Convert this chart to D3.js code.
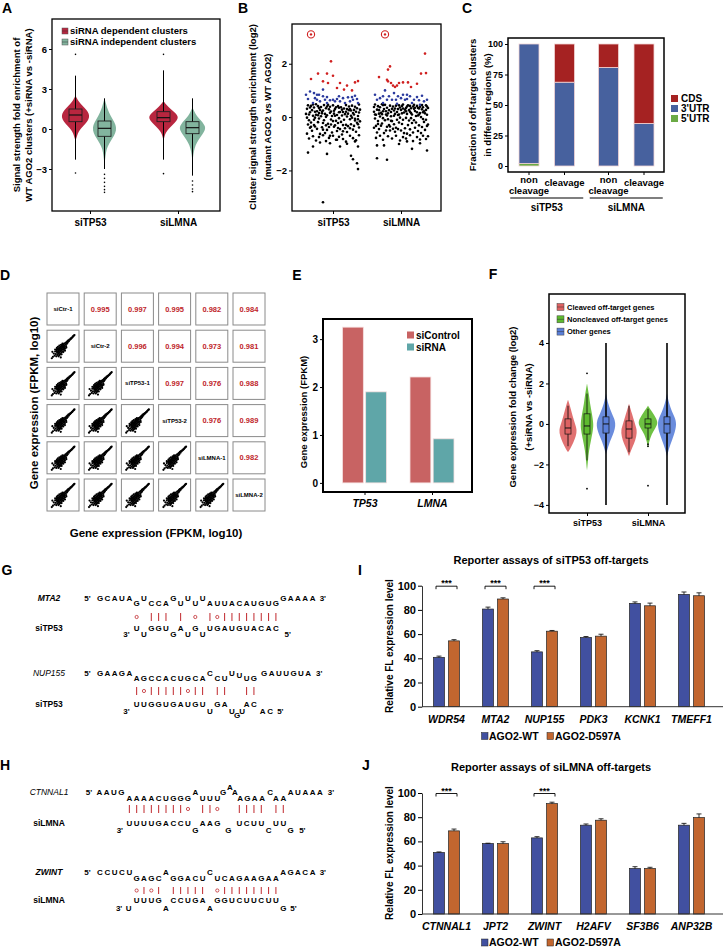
<!DOCTYPE html>
<html><head><meta charset="utf-8">
<script src="https://cdn.jsdelivr.net/npm/d3@7/dist/d3.min.js"></script>
<style>body{margin:0;background:#fff}</style>
</head><body>
<script>
// ================= DATA =================
// Panel A
const aCats = ["siTP53","siLMNA"];
const aGroups = ["siRNA dependent clusters","siRNA independent clusters"];
const aColors = ["#B8263F","#82B49E"];
const aTicks = [-3,0,3,6];
const aViolinTP53Dep = [[2.5,0],[2.2,2],[1.9,5],[1.6,9],[1.3,12.5],[1.0,14],[0.7,13],[0.4,10],[0.1,6],[-0.2,3],[-0.5,1.5],[-0.9,0]];
const aViolinTP53Ind = [[2.3,0],[1.9,1.5],[1.5,3],[1.0,6],[0.5,10],[0.1,12],[-0.3,11],[-0.7,8],[-1.1,4.5],[-1.5,2],[-2.0,1],[-2.5,0.3],[-2.8,0]];
const aViolinLMNADep = [[2.1,0],[1.8,3],[1.5,7],[1.2,12],[0.9,15],[0.6,13],[0.3,9],[0,5],[-0.3,2],[-0.6,0.8],[-0.9,0]];
const aViolinLMNAInd = [[1.6,0],[1.3,2],[1.0,4],[0.6,9],[0.2,13],[-0.1,12.5],[-0.4,10],[-0.8,6],[-1.2,3],[-1.7,1.2],[-2.2,0.4],[-2.5,0]];
const aBoxes = [[0.55,1.05,1.5],[-0.55,0.05,0.6],[0.55,0.85,1.3],[-0.35,0.1,0.55]];
const aWhiskers = [[-2.3,4.0],[-3.0,2.3],[-2.3,4.4],[-3.5,2.3]];
const aSparse = [[5.6,-3.3],[-3.4,-3.7,-4.0,-4.3,-4.55,-4.75],[5.6,-3.35],[-3.9,-4.2,-4.5,-4.7]];

// Panel B  points: [x offset within group (px), log2 enrichment]
const bCats = ["siTP53","siLMNA"];
const bTicks = [-2,0,2];
const bTP53Black = [[-26,0.31],[-24,-0.12],[-22,0.42],[-20,0.05],[-18,-0.35],[-16,0.22],[-14,-0.05],[-12,0.38],[-10,-0.22],[-8,0.12],[-6,-0.48],[-4,0.29],[-2,-0.09],[0,0.44],[2,-0.31],[4,0.08],[6,0.35],[8,-0.18],[10,0.19],[12,-0.42],[14,0.02],[16,0.4],[18,-0.27],[20,0.15],[22,-0.06],[24,0.33],[26,-0.39],
[-25,-0.28],[-23,0.18],[-21,-0.51],[-19,0.36],[-17,0.09],[-15,-0.19],[-13,0.27],[-11,-0.38],[-9,0.45],[-7,0.01],[-5,-0.25],[-3,0.16],[-1,-0.58],[1,0.24],[3,-0.14],[5,0.41],[7,-0.45],[9,0.06],[11,0.32],[13,-0.29],[15,0.13],[17,-0.08],[19,0.43],[21,-0.33],[23,0.2],[25,0.04],[27,-0.16],
[-26,-0.62],[-24,0.1],[-22,-0.2],[-20,0.47],[-18,0.2],[-16,-0.44],[-14,0.34],[-12,0.03],[-10,0.25],[-8,-0.6],[-6,0.07],[-4,-0.37],[-2,0.21],[0,-0.15],[2,0.3],[4,-0.52],[6,-0.04],[8,0.37],[10,-0.3],[12,0.11],[14,-0.56],[16,0.26],[18,0.05],[20,-0.47],[22,0.39],[24,-0.21],[26,0.17],
[-25,0.44],[-23,-0.4],[-21,0.26],[-19,-0.1],[-17,0.48],[-15,0.07],[-13,-0.63],[-11,0.14],[-9,-0.12],[-7,0.33],[-5,0.46],[-3,-0.7],[-1,0.04],[1,-0.36],[3,0.37],[5,-0.22],[7,0.19],[9,-0.65],[11,-0.1],[13,0.45],[15,-0.34],[17,0.3],[19,-0.02],[21,0.1],[23,-0.55],[25,-0.27],[27,0.28],
[-24,-0.8],[-20,-0.72],[-17,-0.88],[-14,-0.75],[-10,-0.68],[-7,-0.9],[-4,-0.78],[0,-0.7],[3,-0.85],[6,-0.74],[10,-0.82],[13,-0.92],[17,-0.7],[20,-0.79],[23,-0.87],[26,-0.68],
[-27,0.12],[-23,0.36],[-19,-0.3],[-15,0.41],[-11,0.2],[-7,-0.31],[-3,0.39],[1,0.13],[5,-0.41],[9,0.28],[13,0.2],[17,-0.42],[21,0.27],[25,-0.08],[-26,-0.02],[-22,-0.36],[-18,-0.02],[-14,0.15],[-10,-0.47],[-6,0.4],[-2,-0.28],[2,0.05],[6,0.18],[10,-0.53],[14,0.3],[18,0.25],[22,-0.13],[26,0.47],
[-25,-1.33],[-20,-1.1],[-6,-1.38],[-13,-0.95],[7,-1.1],[14,-1.0],[18,-1.45],[20,-1.58],[24,-1.73],[25,-1.95],[22,-0.91],[25,-1.1],[4,-0.85],[-3,-0.98],[-10,-3.19]];
const bTP53Blue = [[-27,0.84],[-25,0.68],[-23,0.96],[-20,0.53],[-18,0.71],[-16,0.65],[-14,0.84],[-13,0.59],[-10,1.03],[-10,0.78],[-8,0.65],[-6,0.53],[-3,0.63],[0,0.65],[4,0.68],[7,0.59],[10,0.71],[12,0.53],[15,0.74],[17,0.59],[19,0.75],[20,0.65],[22,0.8],[24,0.68],[25,0.53],[-16,0.84],[-19,0.9],[2,0.59],[6,0.78],[-6,0.75]];
const bTP53Red = [[-22,1.43],[-15,1.63],[-10,1.34],[-6,1.63],[-2,2.09],[-5,1.28],[0,1.55],[4,1.09],[7,1.28],[11,1.03],[14,1.18],[19,1.0],[22,1.3],[25,1.35]];
const bLMNABlack = [[-27,0.2],[-25,-0.33],[-23,0.41],[-21,0.02],[-19,-0.24],[-17,0.3],[-15,-0.5],[-13,0.14],[-11,0.43],[-9,-0.15],[-7,0.25],[-5,-0.4],[-3,0.08],[-1,0.36],[1,-0.26],[3,0.17],[5,-0.03],[7,0.44],[9,-0.46],[11,0.1],[13,0.31],[15,-0.2],[17,0.06],[19,0.39],[21,-0.37],[23,0.22],[25,-0.1],[27,0.34],
[-26,-0.05],[-24,0.28],[-22,-0.45],[-20,0.16],[-18,0.45],[-16,-0.12],[-14,0.35],[-12,-0.3],[-10,0.03],[-8,0.4],[-6,-0.55],[-4,0.19],[-2,-0.2],[0,0.27],[2,0.47],[4,-0.42],[6,0.12],[8,-0.13],[10,0.33],[12,-0.58],[14,0.23],[16,0.42],[18,-0.31],[20,0.0],[22,0.37],[24,-0.48],[26,0.09],
[-27,-0.4],[-25,0.09],[-23,-0.15],[-21,0.37],[-19,0.11],[-17,-0.6],[-15,0.22],[-13,-0.08],[-11,-0.5],[-9,0.31],[-7,-0.27],[-5,0.43],[-3,-0.45],[-1,-0.02],[1,0.14],[3,-0.6],[5,0.34],[7,-0.3],[9,0.2],[11,-0.22],[13,0.46],[15,0.04],[17,-0.52],[19,0.15],[21,0.29],[23,-0.18],[25,0.44],[27,-0.28],
[-26,0.47],[-24,-0.58],[-22,0.13],[-20,-0.32],[-18,-0.04],[-16,0.46],[-14,-0.36],[-12,0.26],[-10,-0.14],[-8,-0.44],[-6,0.32],[-4,-0.1],[-2,0.44],[0,-0.5],[2,-0.1],[4,0.28],[6,-0.62],[8,0.26],[10,-0.04],[12,0.4],[14,-0.4],[16,0.18],[18,0.32],[20,-0.6],[22,-0.07],[24,0.14],[26,-0.33],
[-25,-0.78],[-21,-0.7],[-18,-0.85],[-13,-0.72],[-9,-0.8],[-5,-0.7],[-1,-0.88],[2,-0.75],[5,-0.8],[9,-0.68],[12,-0.9],[16,-0.75],[19,-0.84],[22,-0.7],[25,-0.82],[27,-0.72],
[-27,0.38],[-23,-0.26],[-19,0.48],[-15,0.1],[-11,-0.35],[-7,0.05],[-3,0.3],[1,0.42],[5,0.22],[9,0.42],[13,-0.12],[17,0.34],[21,0.45],[25,0.27],[-26,0.1],[-22,0.26],[-18,0.22],[-14,0.06],[-10,0.19],[-6,0.12],[-2,0.1],[2,0.32],[6,0.4],[10,0.15],[14,0.35],[18,0.1],[22,0.18],[26,0.4],
[-24,-1.54],[-14,-1.6],[-24,-1.06],[-17,-1.06],[-2,-1.01],[11,-1.19],[26,-1.25],[6,-0.91],[19,-0.98]];
const bLMNABlue = [[-26,0.84],[-24,0.65],[-21,0.71],[-18,0.78],[-16,1.0],[-14,0.65],[-12,0.78],[-9,0.65],[-7,0.9],[-5,0.65],[-3,0.78],[0,0.71],[2,0.84],[4,0.65],[6,0.68],[9,0.78],[11,0.53],[13,0.65],[16,0.75],[18,0.63],[21,0.8],[23,0.59],[26,0.65],[-18,0.53],[-4,0.5],[6,0.84],[19,0.46]];
const bLMNARed = [[-22,1.5],[-14,1.4],[-13,1.78],[-11,1.9],[-13,1.34],[-10,1.28],[-8,1.18],[-6,1.13],[-4,1.18],[-2,1.28],[2,1.3],[7,1.3],[10,1.13],[16,1.25],[20,1.63],[25,1.65],[24,2.38]];
const bTargets = [[-22,3.1],[-16,3.1]];

// Panel C
const cGroups = ["siTP53","siLMNA"];
const cTypes = ["non cleavage","cleavage"];
const cRegions = ["5'UTR","3'UTR","CDS"];
const c5UTR = [2.0,0,0,0];
const c3UTR = [98.0,68.7,80.8,34.9];
const cCDS = [0,31.3,19.2,65.1];
const cTicks = [0,25,50,75,100];

// Panel D
const dSamples = ["siCtr-1","siCtr-2","siTP53-1","siTP53-2","siLMNA-1","siLMNA-2"];
const dCorr = [[0.995,0.997,0.995,0.982,0.984],[0.996,0.994,0.973,0.981],[0.997,0.976,0.988],[0.976,0.989],[0.982]];
const dPts = [[0.14,0.12],[0.17,0.24],[0.20,0.16],[0.22,0.31],[0.24,0.22],[0.26,0.14],[0.27,0.36],[0.29,0.27],[0.30,0.19],[0.31,0.38],[0.32,0.31],[0.33,0.23],[0.34,0.42],[0.35,0.34],[0.36,0.27],[0.37,0.18],[0.38,0.45],[0.39,0.38],[0.40,0.31],[0.41,0.24],[0.42,0.49],[0.43,0.42],[0.44,0.35],[0.45,0.28],[0.46,0.53],[0.47,0.46],[0.48,0.39],[0.49,0.32],[0.50,0.56],[0.51,0.50],[0.52,0.44],[0.53,0.37],[0.54,0.59],[0.55,0.53],[0.56,0.47],[0.57,0.41],[0.59,0.62],[0.60,0.56],[0.61,0.50],[0.63,0.65],[0.64,0.59],[0.66,0.68],[0.67,0.63],[0.69,0.71],[0.71,0.68],[0.73,0.74],[0.75,0.73],[0.77,0.77],[0.79,0.77],[0.81,0.80],[0.83,0.81],[0.85,0.84],[0.87,0.86],[0.89,0.88],[0.91,0.90],[0.28,0.44],[0.32,0.48],[0.37,0.52],[0.22,0.38],[0.39,0.21],[0.45,0.21],[0.51,0.29],[0.34,0.14],[0.29,0.40],[0.43,0.55],[0.48,0.59],[0.57,0.34],[0.62,0.45],[0.10,0.07],[0.12,0.30],[0.42,0.10],[0.36,0.38],[0.41,0.33],[0.46,0.40],[0.39,0.44],[0.44,0.48],[0.49,0.50],[0.33,0.30],[0.28,0.32],[0.53,0.45]];

// Panel E
const eGenes = ["TP53","LMNA"];
const eConds = ["siControl","siRNA"];
const eControl = [3.25,2.21];
const eSiRNA = [1.9,0.92];
const eTicks = [0,1,2,3];

// Panel F
const fCats = ["siTP53","siLMNA"];
const fGroups = ["Cleaved off-target genes","Noncleaved off-target genes","Other genes"];
const fColors = ["#DE6262","#5EBA2F","#5A7FD9"];
const fTicks = [-4,-2,0,2,4];
const fViolinTP53Clv = [[1.2,0],[0.8,2.5],[0.4,4.5],[0,7],[-0.3,9],[-0.6,8],[-0.9,5.5],[-1.2,2.5],[-1.4,0]];
const fViolinTP53Non = [[2.0,0],[1.5,1.8],[1.0,3],[0.5,5],[0,6.5],[-0.3,6],[-0.8,4],[-1.3,2],[-1.8,1],[-2.3,0]];
const fViolinTP53Oth = [[1.5,0],[1.0,2],[0.5,6],[0.2,9],[-0.1,9.5],[-0.4,8],[-0.7,5.5],[-1.0,3],[-1.5,0]];
const fViolinLMNAClv = [[1.0,0],[0.5,3],[0,6],[-0.3,8],[-0.6,7.5],[-1.0,5],[-1.3,2],[-1.6,0]];
const fViolinLMNANon = [[0.9,0],[0.6,4],[0.3,8],[0.05,10],[-0.2,7.5],[-0.5,3.5],[-0.9,1],[-1.2,0]];
const fViolinLMNAOth = [[1.5,0],[1.0,2],[0.6,5],[0.3,8],[0,9.5],[-0.4,8],[-0.8,5],[-1.2,2],[-1.6,0]];
const fBoxes = [[-0.5,-0.2,0.25],[-0.5,-0.1,0.5],[-0.45,0,0.35],[-0.7,-0.25,0.15],[-0.2,0,0.25],[-0.45,0,0.35]];
const fWhiskers = [[-1.1,0.9],[-1.8,1.5],[-4,4],[-1.4,0.9],[-0.8,0.75],[-4,4]];
const fOutliers = [[],[2.5,-3.2],[],[],[-1.0,-1.1,-3.05],[]];

// Panels G / H : duplex segments [text, column, row]
const gMTA2 = [["5'",-1.7,"th"],["GCAUA",0,"th"],["G",5,"tl"],["U",6,"th"],["CCA",7,"tl"],["G",10,"th"],["U",11,"tl"],["U",12,"th"],["U",13,"tl"],["U",14,"th"],["AUUACAUGUG",15,"tl"],["GAAAA",25,"th"],["3'",30.4,"th"],
  ["3'",3.6,"sl"],["U",5,"sh"],["U",6,"sl"],["GGU",7,"sh"],["G",10,"sl"],["A",11,"sh"],["U",12,"sl"],["G",13,"sh"],["U",14,"sl"],["UGAUGUACAC",15,"sh"],["5'",25.6,"sl"]];
const gMTA2Pairs = "     o ||| | o |o||||||||";
const gNUP155 = [["5'",-1.7,"th"],["GAAGA",0,"th"],["AGCCACUGCA",5,"tl"],["C",15,"th"],["CU",16,"tl"],["U",18,"th"],["U",19,"tm"],["UG",20,"tl"],["GAUUGUA",22.4,"th"],["3'",29.9,"th"],
  ["3'",3.6,"sl"],["UUGGUGAUGU",5,"sh"],["U",15,"sl"],["GA",16,"sh"],["U",18,"sl"],["G",18.7,"sll"],["U",19.4,"sl"],["AC",20,"sh"],["AC",22.2,"sl"],["5'",24.6,"sl"]];
const gNUP155Pairs = "     |o|||||o|| ||  ||";
const hCTNNAL1 = [["5'",-0.5,"th"],["AAUG",0.9,"th"],["AAAACUGGG",5,"tl"],["A",14,"th"],["UUU",15,"tl"],["G",17.8,"th"],["A",18.7,"thh"],["A",19.4,"th"],["AGAA",20.1,"tl"],["C",24.2,"th"],["AA",25,"tl"],["AUAAA",27,"th"],["3'",32.5,"th"],
  ["3'",3.7,"sl"],["UUUUGACCU",5,"sh"],["G",14,"sl"],["AAG",15,"sh"],["G",18.5,"sl"],["UCUU",20,"sh"],["C",24,"sl"],["UU",25,"sh"],["G",27,"sl"],["5'",28.6,"sl"]];
const hCTNNAL1Pairs = "     ||||||||o ||o  |||| ||";
const hZWINT = [["5'",-1.7,"th"],["CCUCU",0,"th"],["GAGC",5,"tl"],["A",9,"th"],["GGACU",10,"tl"],["C",15,"th"],["UCAGAAGAA",16,"tl"],["AGACA",25,"th"],["3'",30.4,"th"],
  ["3'",2.6,"sl"],["U",3.9,"sl"],["UUUG",5,"sh"],["A",9,"sl"],["CCUGA",10,"sh"],["A",15,"sl"],["GGUCUUCUU",16,"sh"],["G",25,"sl"],["5'",26.4,"sl"]];
const hZWINTPairs = "     o|o| ||||| o||||||||";

// Panels I / J
const ijConds = ["AGO2-WT","AGO2-D597A"];
const ijColors = ["#4150A0","#C2662F"];
const ijTicks = [0,20,40,60,80,100];
const iGenes = ["WDR54","MTA2","NUP155","PDK3","KCNK1","TMEFF1"];
const iWT = [40.8,80.7,45.3,57.2,85.4,92.8];
const iMut = [54.4,89.0,62.4,58.3,83.4,91.7];
const iWTErr = [1.0,1.6,1.0,0.8,1.2,2.0];
const iMutErr = [1.0,1.0,0.6,1.6,2.2,2.4];
const iSig = ["WDR54","MTA2","NUP155"];
const jGenes = ["CTNNAL1","JPT2","ZWINT","H2AFV","SF3B6","ANP32B"];
const jWT = [50.8,58.2,62.9,73.4,37.6,73.4];
const jMut = [68.7,58.2,91.2,77.5,37.6,79.7];
const jWTErr = [0.5,0.3,1.0,1.0,1.5,1.5];
const jMutErr = [1.5,1.5,1.2,1.2,1.0,3.0];
const jSig = ["CTNNAL1","ZWINT"];

// ================= DRAWING =================
const FF = "'Liberation Sans', Arial, Helvetica, sans-serif";
const svg = d3.select("body").append("svg").attr("width",726).attr("height",948).attr("font-family",FF);
svg.append("rect").attr("width",726).attr("height",948).attr("fill","#fff");

function label(x,y,s,size,opts){
  opts = opts||{};
  const t = svg.append("text").attr("x",x).attr("y",y).attr("dy","0.35em").text(s)
    .attr("font-size",size).attr("font-weight",opts.weight||"bold")
    .attr("text-anchor",opts.anchor||"middle").attr("fill",opts.fill||"#000");
  if(opts.italic) t.attr("font-style","italic");
  if(opts.rotate) t.attr("transform",`rotate(-90,${x},${y})`);
  return t;
}
function styleAxis(ax,size,keepDomain){
  ax.attr("font-family",FF).attr("font-size",size).attr("font-weight","bold");
  if(!keepDomain) ax.selectAll(".domain").remove();
  ax.selectAll(".tick line").attr("stroke","#000");
  ax.selectAll(".tick text").attr("fill","#000");
  return ax;
}
function frame(x0,y0,x1,y1,w){
  svg.append("rect").attr("x",x0).attr("y",y0).attr("width",x1-x0).attr("height",y1-y0)
    .attr("fill","none").attr("stroke","#000").attr("stroke-width",w||1.3);
}
const violinArea = (cx,y)=>d3.area().y(d=>y(d[0])).x0(d=>cx-d[1]).x1(d=>cx+d[1]).curve(d3.curveBasis);

// Panel letters
[["A",7,8],["B",243,8],["C",467,8],["D",5,275],["E",297,275],["F",493,274],["G",7,570],["H",5,765],["I",360,570],["J",366,765]]
  .forEach(p=>label(p[1],p[2],p[0],14));

// ---------- Panel A ----------
(function(){
  const x = d3.scalePoint().domain(aCats).range([46,222]).padding(0.5);
  const xs = d3.scaleBand().domain(aGroups).range([-29,29]);
  const y = d3.scaleLinear().domain([-6.15,8.25]).range([211,19]);
  const profiles = [aViolinTP53Dep,aViolinTP53Ind,aViolinLMNADep,aViolinLMNAInd];
  const g = svg.append("g");
  profiles.forEach((prof,i)=>{
    const cat = aCats[i>>1], grp = aGroups[i%2];
    const cx = x(cat)+xs(grp)+xs.bandwidth()/2;
    const col = aColors[i%2];
    g.append("path").datum(prof).attr("d",violinArea(cx,y)).attr("fill",col);
    const w = aWhiskers[i];
    g.append("line").attr("x1",cx).attr("x2",cx).attr("y1",y(w[0])).attr("y2",y(w[1])).attr("stroke","#000").attr("stroke-width",1);
    aSparse[i].forEach(v=>g.append("circle").attr("cx",cx).attr("cy",y(v)).attr("r",0.8).attr("fill","#000"));
    const b = aBoxes[i];
    g.append("rect").attr("x",cx-6.5).attr("width",13).attr("y",y(b[2])).attr("height",y(b[0])-y(b[2]))
      .attr("fill",col).attr("stroke","#222").attr("stroke-width",0.9);
    g.append("line").attr("x1",cx-6.5).attr("x2",cx+6.5).attr("y1",y(b[1])).attr("y2",y(b[1])).attr("stroke","#111").attr("stroke-width",1.2);
  });
  frame(52,19,220,211);
  styleAxis(svg.append("g").attr("transform","translate(52,0)").call(d3.axisLeft(y).tickValues(aTicks).tickSize(3).tickPadding(2).tickFormat(d3.format("d"))),9.5);
  styleAxis(svg.append("g").attr("transform","translate(0,211)").call(d3.axisBottom(x).tickSize(3).tickPadding(5)),10);
  aGroups.forEach((gname,i)=>{
    const yy = 31+i*11;
    svg.append("rect").attr("x",62).attr("y",yy-3).attr("width",6).attr("height",6).attr("fill",aColors[i]).attr("stroke","#555").attr("stroke-width",0.5);
    svg.append("line").attr("x1",62).attr("x2",68).attr("y1",yy).attr("y2",yy).attr("stroke","#333").attr("stroke-width",0.5);
    label(70,yy,gname,9.5,{anchor:"start"});
  });
  label(17,115,"Signal strength fold enrichment of",9.5,{rotate:true});
  label(29,115,"WT AGO2 clusters (+siRNA vs -siRNA)",9.5,{rotate:true});
})();

// ---------- Panel B ----------
(function(){
  const x = d3.scalePoint().domain(bCats).range([299,435]).padding(0.5);
  const y = d3.scaleLinear().domain([-3.52,3.49]).range([211,24]);
  const g = svg.append("g");
  const sets = [[bTP53Black,"#000",0],[bLMNABlack,"#000",1],[bTP53Blue,"#2B3A9E",0],[bLMNABlue,"#2B3A9E",1],[bTP53Red,"#D02020",0],[bLMNARed,"#D02020",1]];
  sets.forEach(s=>{
    const cx = x(bCats[s[2]]);
    g.selectAll(null).data(s[0]).enter().append("circle")
      .attr("cx",d=>cx+d[0]).attr("cy",d=>y(d[1])).attr("r",1.3).attr("fill",s[1]);
  });
  bTargets.forEach((t,i)=>{
    const cx = x(bCats[i])+t[0], cy = y(t[1]);
    g.append("circle").attr("cx",cx).attr("cy",cy).attr("r",3.6).attr("fill","none").attr("stroke","#D02020").attr("stroke-width",1.1);
    g.append("circle").attr("cx",cx).attr("cy",cy).attr("r",1.2).attr("fill","#D02020");
  });
  frame(292,24,441,211);
  styleAxis(svg.append("g").attr("transform","translate(292,0)").call(d3.axisLeft(y).tickValues(bTicks).tickSize(3).tickPadding(2).tickFormat(d3.format("d"))),9.5);
  styleAxis(svg.append("g").attr("transform","translate(0,211)").call(d3.axisBottom(x).tickSize(3).tickPadding(5)),10);
  label(253,117,"Cluster signal strength enrichment (log2)",9.5,{rotate:true});
  label(268,117,"(mutant AGO2 vs WT AGO2)",9.5,{rotate:true});
})();

// ---------- Panel C ----------
(function(){
  const x = d3.scalePoint().domain(cGroups).range([507,666]).padding(0.5);
  const xs = d3.scaleBand().domain(cTypes).range([-35.5,35.5]);
  const y = d3.scaleLinear().domain([0,100]).range([166,44]);
  const colors = {"5'UTR":"#6BAA45","3'UTR":"#47619E","CDS":"#A52222"};
  const table = d3.range(4).map(i=>({i, "5'UTR":c5UTR[i], "3'UTR":c3UTR[i], "CDS":cCDS[i]}));
  const stack = d3.stack().keys(cRegions)(table);
  const barX = i => x(cGroups[i>>1]) + xs(cTypes[i%2]) + xs.bandwidth()/2;
  const g = svg.append("g");
  stack.forEach(layer=>{
    g.selectAll(null).data(layer.filter(d=>d[1]-d[0]>0)).enter().append("rect")
      .attr("x",d=>barX(d.data.i)-10).attr("width",20)
      .attr("y",d=>y(d[1])).attr("height",d=>y(d[0])-y(d[1]))
      .attr("fill",colors[layer.key]).attr("stroke","#F2D4D4").attr("stroke-width",0.8);
  });
  frame(508,38,664,172,1.5);
  styleAxis(svg.append("g").attr("transform","translate(508,0)").call(d3.axisLeft(y).tickValues(cTicks).tickSize(3).tickPadding(2)),9);
  d3.range(4).forEach(i=>{
    const cx = barX(i);
    svg.append("line").attr("x1",cx).attr("x2",cx).attr("y1",172).attr("y2",175).attr("stroke","#000");
    if(cTypes[i%2]==="non cleavage"){ label(cx,180,"non",9.5); label(cx,191,"cleavage",9.5); }
    else label(cx,183,"cleavage",9.5);
  });
  cGroups.forEach(gr=>{
    const cx = x(gr);
    svg.append("line").attr("x1",cx-36.5).attr("x2",cx+36.5).attr("y1",198).attr("y2",198).attr("stroke","#000").attr("stroke-width",1.2);
    label(cx,207,gr,10);
  });
  ["CDS","3'UTR","5'UTR"].forEach((k,i)=>{
    const yy = 98.5+i*10;
    svg.append("rect").attr("x",671).attr("y",yy-3.5).attr("width",7).attr("height",7).attr("fill",colors[k]);
    label(681,yy,k,10,{anchor:"start"});
  });
  label(473,105,"Fraction of off-target clusters",9.5,{rotate:true});
  label(487.5,105,"in different regions (%)",9.5,{rotate:true});
})();

// ---------- Panel D ----------
(function(){
  const dx = d3.scaleBand().domain(dSamples).range([47,265]).paddingInner(0.14);
  const dy = d3.scaleBand().domain(dSamples).range([293,511]).paddingInner(0.14);
  const bw = dx.bandwidth();
  const ms = d3.scaleLinear().domain([0,1]).range([2,bw-2]);
  const g = svg.append("g");
  dSamples.forEach((r,i)=>dSamples.forEach((c,j)=>{
    const gx = dx(c), gy = dy(r);
    if(j<i){
      g.selectAll(null).data(dPts).enter().append("circle")
        .attr("cx",d=>gx+ms(d[0])).attr("cy",d=>gy+bw-ms(d[1])).attr("r",1.1).attr("fill","#000");
    }
    g.append("rect").attr("x",gx).attr("y",gy).attr("width",bw).attr("height",bw).attr("fill","none").attr("stroke","#8a8a8a").attr("stroke-width",1);
    if(i===j) label(gx+bw/2,gy+bw/2,r,6,{});
    else if(j>i) label(gx+bw/2,gy+bw/2,d3.format(".3f")(dCorr[i][j-i-1]),7.5,{fill:"#C0262B"});
  }));
  label(34,403,"Gene expression (FPKM, log10)",11.5,{rotate:true});
  label(156,533,"Gene expression (FPKM, log10)",11.5);
})();

// ---------- Panel E ----------
(function(){
  const x = d3.scalePoint().domain(eGenes).range([330.75,465.75]).padding(0.5);
  const xs = d3.scaleBand().domain(eConds).range([-22,22]).paddingInner(0.1);
  const y = d3.scaleLinear().domain([-0.19,3.42]).range([492,319]);
  const vals = [eControl,eSiRNA];
  const colors = ["#C86363","#5FA6A8"];
  eConds.forEach((c,k)=>{
    svg.append("g").selectAll(null).data(eGenes).enter().append("rect")
      .attr("x",d=>x(d)+xs(c)).attr("width",xs.bandwidth())
      .attr("y",(d,i)=>y(vals[k][i])).attr("height",(d,i)=>y(0)-y(vals[k][i]))
      .attr("fill",colors[k]).attr("stroke","#F6E0E0").attr("stroke-width",0.8);
  });
  frame(323,319,472,492,2);
  styleAxis(svg.append("g").attr("transform","translate(323,0)").call(d3.axisLeft(y).tickValues(eTicks).tickSize(3).tickPadding(2).tickFormat(d3.format("d"))),10);
  const xa = styleAxis(svg.append("g").attr("transform","translate(0,492)").call(d3.axisBottom(x).tickSize(3).tickPadding(5)),10.5);
  xa.selectAll(".tick text").attr("font-style","italic");
  eConds.forEach((c,i)=>{
    const yy = 335+i*12;
    svg.append("rect").attr("x",407).attr("y",yy-3.5).attr("width",7).attr("height",7).attr("fill",colors[i]);
    label(416,yy,c,10,{anchor:"start"});
  });
  label(304,412,"Gene expression (FPKM)",9.5,{rotate:true});
})();

// ---------- Panel F ----------
(function(){
  const x = d3.scalePoint().domain(fCats).range([556.5,678.5]).padding(0.5);
  const xs = d3.scaleBand().domain(fGroups).range([-28.5,28.5]);
  const y = d3.scaleLinear().domain([-4.4,6.42]).range([513,294]);
  const profiles = [fViolinTP53Clv,fViolinTP53Non,fViolinTP53Oth,fViolinLMNAClv,fViolinLMNANon,fViolinLMNAOth];
  const g = svg.append("g");
  profiles.forEach((prof,i)=>{
    const cat = fCats[Math.floor(i/3)], grp = fGroups[i%3];
    const cx = x(cat)+xs(grp)+xs.bandwidth()/2;
    const col = fColors[i%3];
    g.append("path").datum(prof).attr("d",violinArea(cx,y)).attr("fill",col).attr("fill-opacity",0.9);
    const w = fWhiskers[i];
    g.append("line").attr("x1",cx).attr("x2",cx).attr("y1",y(w[0])).attr("y2",y(w[1])).attr("stroke","#000").attr("stroke-width",i%3===2?1.6:0.8);
    fOutliers[i].forEach(v=>g.append("circle").attr("cx",cx).attr("cy",y(v)).attr("r",0.9).attr("fill","#000"));
    const b = fBoxes[i];
    g.append("rect").attr("x",cx-3).attr("width",6).attr("y",y(b[2])).attr("height",y(b[0])-y(b[2]))
      .attr("fill",col).attr("stroke","#111").attr("stroke-width",0.7);
    g.append("line").attr("x1",cx-3).attr("x2",cx+3).attr("y1",y(b[1])).attr("y2",y(b[1])).attr("stroke","#111").attr("stroke-width",1);
  });
  frame(549,294,685,513,1.5);
  styleAxis(svg.append("g").attr("transform","translate(549,0)").call(d3.axisLeft(y).tickValues(fTicks).tickSize(3).tickPadding(2).tickFormat(d3.format("d"))),9);
  styleAxis(svg.append("g").attr("transform","translate(0,513)").call(d3.axisBottom(x).tickSize(3).tickPadding(4)),9);
  fGroups.forEach((gn,i)=>{
    const yy = 307+i*12.3;
    svg.append("rect").attr("x",557).attr("y",yy-3.5).attr("width",7).attr("height",7).attr("fill",fColors[i]).attr("stroke","#444").attr("stroke-width",0.5);
    svg.append("line").attr("x1",557).attr("x2",564).attr("y1",yy).attr("y2",yy).attr("stroke","#333").attr("stroke-width",0.5);
    label(567,yy,gn,7.5,{anchor:"start"});
  });
  label(513,407,"Gene expression fold change (log2)",9.5,{rotate:true});
  label(529,407,"(+siRNA vs -siRNA)",9.5,{rotate:true});
})();

// ---------- Panels G / H ----------
function duplex(segs,pairs,x0,rows,gene,sirna,geneBold){
  const cw = 7.33;
  const cx = c => x0 + c*cw;
  segs.forEach(s=>{
    const txt = s[0], c0 = s[1], row = rows[s[2]];
    const isEnd = txt.indexOf("'")>=0;
    if(isEnd){ label(cx(c0),row,txt,8,{}); return; }
    txt.split("").forEach((ch,k)=> label(cx(c0+k),row,ch,8,{}));
  });
  pairs.split("").forEach((p,c)=>{
    if(p==="|") svg.append("line").attr("x1",cx(c)).attr("x2",cx(c)).attr("y1",rows.b0).attr("y2",rows.b1).attr("stroke","#C0282D").attr("stroke-width",1);
    else if(p==="o") svg.append("circle").attr("cx",cx(c)).attr("cy",(rows.b0+rows.b1)/2).attr("r",1.6).attr("fill","none").attr("stroke","#C0282D").attr("stroke-width",0.8);
  });
  label(49,rows.th,gene,8.5,{italic:true,weight:geneBold?"bold":"normal"});
  label(49,rows.sh,sirna,8.5,{});
}
duplex(gMTA2,gMTA2Pairs,100,{th:598,tl:603,b0:613,b1:621,sh:628,sl:634},"MTA2","siTP53",true);
duplex(gNUP155,gNUP155Pairs,100,{th:673,tm:675,tl:678,b0:687,b1:695,sh:704,sl:711,sll:715},"NUP155","siTP53",false);
duplex(hCTNNAL1,hCTNNAL1Pairs,92.7,{thh:787,th:792,tl:798,b0:805,b1:813,sh:823,sl:830},"CTNNAL1","siLMNA",false);
duplex(hZWINT,hZWINTPairs,100,{th:872,tl:878,b0:887,b1:894,sh:900,sl:908},"ZWINT","siLMNA",true);

// ---------- Panels I / J ----------
function reporter(genes,wt,mut,wtE,mutE,sig,yBottom,title,titleY,labelY,legendY,yTitleY){
  const x = d3.scaleBand().domain(genes).range([422,716]);
  const xi = d3.scaleBand().domain(ijConds).range([-13,13]).paddingInner(0.27);
  const y = d3.scaleLinear().domain([0,100]).range([yBottom,yBottom-121]);
  const cen = gname => x(gname)+x.bandwidth()/2;
  const vals = [wt,mut], errs = [wtE,mutE];
  const g = svg.append("g");
  ijConds.forEach((c,k)=>{
    g.selectAll(null).data(genes).enter().append("rect")
      .attr("x",d=>cen(d)+xi(c)).attr("width",xi.bandwidth())
      .attr("y",(d,i)=>y(vals[k][i])).attr("height",(d,i)=>yBottom-y(vals[k][i]))
      .attr("fill",ijColors[k]).attr("stroke","#222").attr("stroke-width",0.7);
    genes.forEach((gname,i)=>{
      const bx = cen(gname)+xi(c)+xi.bandwidth()/2;
      const top = y(vals[k][i]), e = y(vals[k][i]+errs[k][i]);
      g.append("line").attr("x1",bx).attr("x2",bx).attr("y1",top).attr("y2",e).attr("stroke","#000").attr("stroke-width",0.8);
      g.append("line").attr("x1",bx-2.5).attr("x2",bx+2.5).attr("y1",e).attr("y2",e).attr("stroke","#000").attr("stroke-width",0.8);
    });
  });
  svg.append("line").attr("x1",422).attr("x2",723).attr("y1",yBottom).attr("y2",yBottom).attr("stroke","#333").attr("stroke-width",1);
  styleAxis(svg.append("g").attr("transform","translate(422,0)").call(d3.axisLeft(y).tickValues(ijTicks).tickSize(4).tickSizeOuter(0).tickPadding(2)),11,true)
    .select(".domain").attr("stroke","#333");
  sig.forEach(gname=>{
    const c = cen(gname), yy = y(100)+0.5;
    svg.append("path").attr("d",`M${c-10.5},${yy+3}V${yy}H${c+10.5}V${yy+3}`).attr("fill","none").attr("stroke","#000").attr("stroke-width",0.9);
    label(c,yy-3,"***",9,{});
  });
  genes.forEach(gname=>label(cen(gname),labelY,gname,10.5,{italic:true}));
  label(551,titleY,title,11);
  [[481.5,489],[547,555]].forEach((p,k)=>{
    svg.append("rect").attr("x",p[0]).attr("y",legendY-3.5).attr("width",6.5).attr("height",7).attr("fill",ijColors[k]).attr("stroke","#222").attr("stroke-width",0.5);
    label(p[1],legendY,ijConds[k],10.5,{anchor:"start"});
  });
  label(389,yTitleY,"Relative FL expression level",10,{rotate:true});
}
reporter(iGenes,iWT,iMut,iWTErr,iMutErr,iSig,706.7,"Reporter assays of siTP53 off-targets",560,719,736,646);
reporter(jGenes,jWT,jMut,jWTErr,jMutErr,jSig,914,"Reporter assays of siLMNA off-targets",767,926,942.5,853);
</script>
</body></html>
